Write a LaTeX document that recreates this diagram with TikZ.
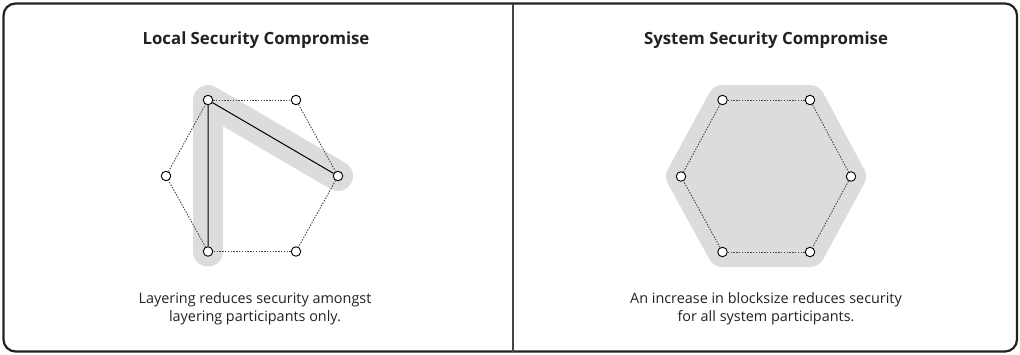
\documentclass[tikz,border=0pt]{standalone}
\usepackage{fontspec}
\setmainfont{Open Sans}
\usetikzlibrary{backgrounds}
\definecolor{inkc}{HTML}{222222}
\definecolor{shadec}{HTML}{DCDCDC}
\definecolor{edgec}{HTML}{444444}

\begin{document}
\begin{tikzpicture}[x=1pt, y=-1pt,
  peer/.style={circle, draw=black, fill=white, line width=0.9pt,
               inner sep=0pt, minimum size=9.5pt},
  ring/.style={edgec, line width=0.9pt, dash pattern=on 1.4pt off 1.4pt},
  link/.style={black, line width=1pt},
  shade/.style={shadec, line width=30pt, line cap=round, line join=round},
  ttl/.style={font=\fontsize{16.8}{20}\selectfont\bfseries, text=inkc},
  note/.style={font=\fontsize{14.4}{17.5}\selectfont, text=inkc, align=center}]
  \useasboundingbox (0,0) rectangle (1020,354);
  % frame
  \draw[inkc, line width=2.2pt, rounded corners=12pt] (3.5,3.5) rectangle (1017,351.5);
  \draw[edgec, line width=1.5pt] (513,3.5) -- (513,351.5);
  % local
  \node[ttl] (ltitle) at (256,40) {Local Security Compromise};
  \node[peer] (a1) at (208,100) {};
  \node[peer] (a2) at (296,100) {};
  \node[peer] (a3) at (338,176) {};
  \node[peer] (a4) at (296,251.5) {};
  \node[peer] (a5) at (208,251.5) {};
  \node[peer] (a6) at (166,176) {};
  \foreach \s/\t in {a1/a2, a2/a3, a3/a4, a4/a5, a5/a6, a6/a1}
    \draw[ring] (\s) -- (\t);
  \draw[link] (a5) -- (a1) -- (a3);
  \begin{pgfonlayer}{background}
    \draw[shade] (a5.center) -- (a1.center) -- (a3.center);
  \end{pgfonlayer}
  \node[note] (lnote) at (255,309) {Layering reduces security amongst\\layering participants only.};
  % system
  \node[ttl] (rtitle) at (766,40) {System Security Compromise};
  \node[peer] (b1) at (722.5,100) {};
  \node[peer] (b2) at (810,100) {};
  \node[peer] (b3) at (851,176.5) {};
  \node[peer] (b4) at (810,252) {};
  \node[peer] (b5) at (722.5,252) {};
  \node[peer] (b6) at (681,176.5) {};
  \foreach \s/\t in {b1/b2, b2/b3, b3/b4, b4/b5, b5/b6, b6/b1}
    \draw[ring] (\s) -- (\t);
  \begin{pgfonlayer}{background}
    \filldraw[shade, fill=shadec] (b1.center) -- (b2.center) -- (b3.center)
      -- (b4.center) -- (b5.center) -- (b6.center) -- cycle;
  \end{pgfonlayer}
  \node[note] (rnote) at (766,309) {An increase in blocksize reduces security\\for all system participants.};
\end{tikzpicture}
\end{document}
